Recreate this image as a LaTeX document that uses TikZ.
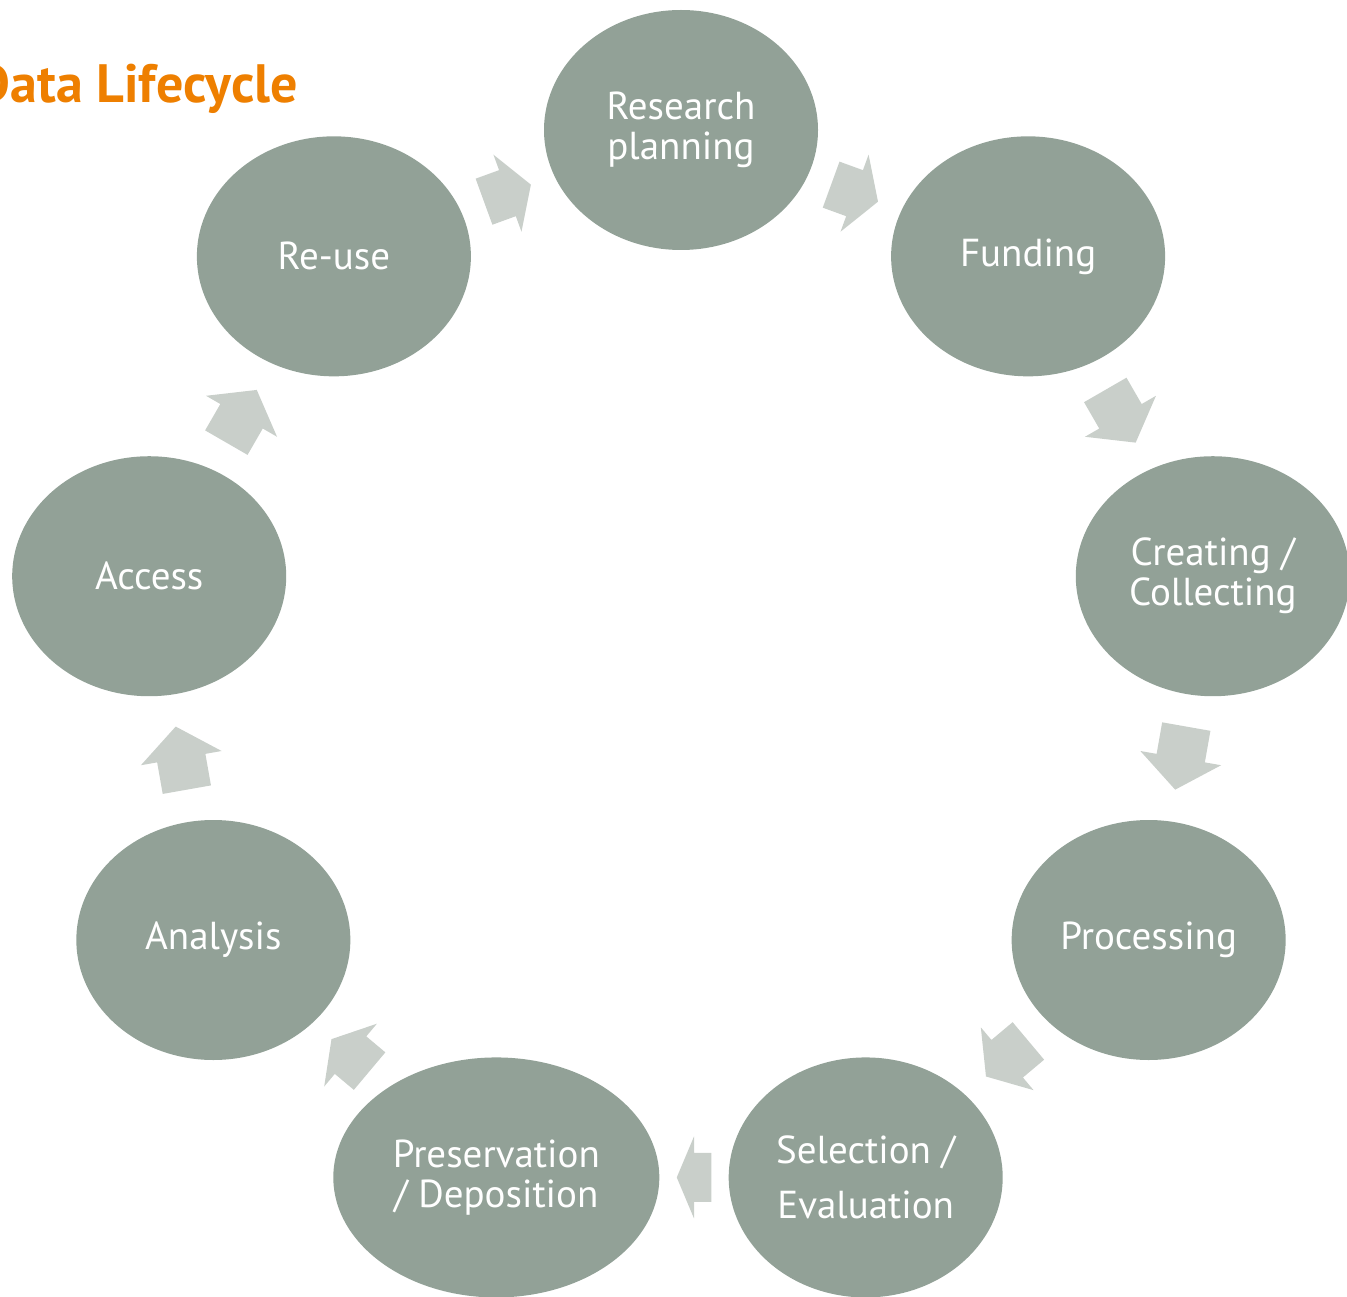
\documentclass[tikz,border=0pt]{standalone}
\usepackage{fontspec}
\setmainfont{PT Sans}
\usepackage{tikz}
\usetikzlibrary{calc}
\usetikzlibrary{shapes.geometric}

\definecolor{stagegreen}{RGB}{146,161,151}
\definecolor{arrowgrey}{RGB}{201,207,202}
\definecolor{titleorange}{RGB}{238,127,0}

% block arrow in the middle half of the gap between two stages
\newcommand{\cyclearrow}[2]{%
  \path (#1) -- coordinate[pos=0.25] (#1-s) coordinate[pos=0.5] (#1-m) coordinate[pos=0.75] (#1-e) (#2);
  \fill[arrowgrey] ($(#1-s)!24.5pt!90:(#1-e)$) -- ($(#1-m)!24.5pt!90:(#1-e)$) -- ($(#1-m)!41pt!90:(#1-e)$)
    -- (#1-e) -- ($(#1-m)!41pt!-90:(#1-e)$) -- ($(#1-m)!24.5pt!-90:(#1-e)$) -- ($(#1-s)!24.5pt!-90:(#1-e)$) -- cycle;
}

\begin{document}
\begin{tikzpicture}[
  x = 1pt, y = 1pt,
  stage/.style = {ellipse, fill=stagegreen, text=white, inner sep=0pt, align=center,
    minimum width=274pt, minimum height=240pt, font=\fontsize{39}{40}\selectfont}
  ]
  \useasboundingbox (0,0) rectangle (1347,-1297);
  \coordinate (c) at (681,-670);

  \node[anchor=base east, inner sep=0pt, text=titleorange, font=\fontsize{54}{60}\selectfont\bfseries] (title) at (298,-103) {Data Lifecycle};

  \node[stage] (res) at ($(c)+(90:540)$) {Research\\planning};
  \node[stage] (fund) at ($(c)+(50:540)$) {Funding};
  \node[stage] (coll) at ($(c)+(10:540)$) {Creating /\\Collecting};
  \node[stage] (proc) at ($(c)+(-30:540)$) {Processing};
  \node[stage] (sel) at ($(c)+(-70:540)$) {Selection /\\[15pt]Evaluation};
  \node[stage, minimum width=326pt] (pres) at ($(c)+(-110:540)$) {Preservation\\/ Deposition};
  \node[stage] (ana) at ($(c)+(-150:540)$) {Analysis};
  \node[stage] (acc) at ($(c)+(170:540)$) {Access};
  \node[stage] (reuse) at ($(c)+(130:540)$) {Re-use};

  \cyclearrow{res}{fund}
  \cyclearrow{fund}{coll}
  \cyclearrow{coll}{proc}
  \cyclearrow{proc}{sel}
  \cyclearrow{sel}{pres}
  \cyclearrow{pres}{ana}
  \cyclearrow{ana}{acc}
  \cyclearrow{acc}{reuse}
  \cyclearrow{reuse}{res}
\end{tikzpicture}
\end{document}
